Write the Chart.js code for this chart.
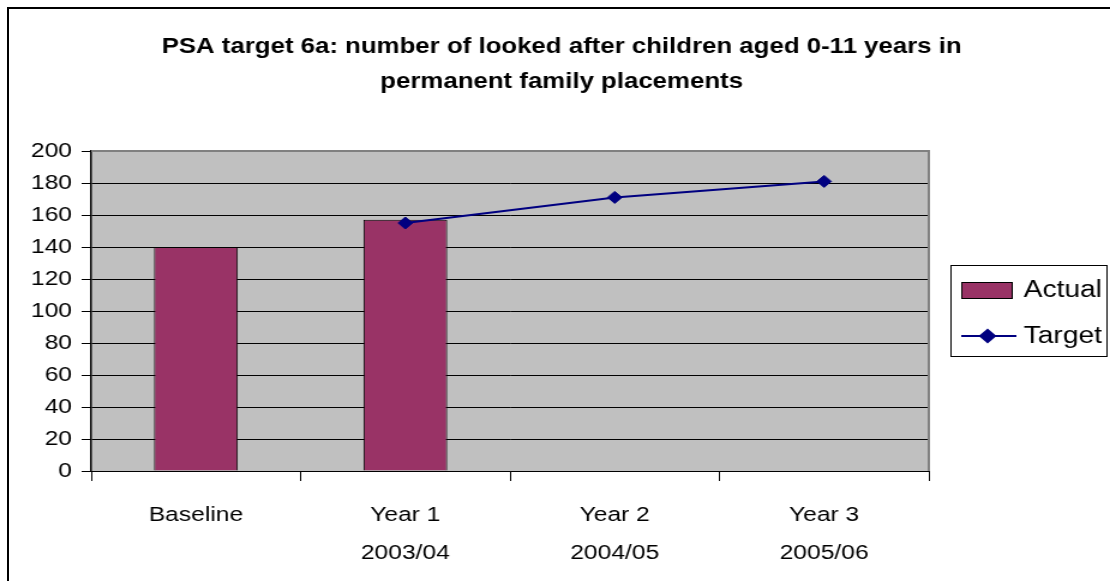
<!DOCTYPE html>
<html>
<head>
<meta charset="utf-8">
<script src="https://cdn.jsdelivr.net/npm/chart.js@4.4.1/dist/chart.umd.min.js"></script>
<style>
  html, body { margin: 0; padding: 0; background: #fff; overflow: hidden; }
  #frame { position: absolute; left: 7px; top: 7px; width: 1200px; height: 700px; border: 2px solid #000; }
  /* the original picture is stretched sideways, so stretch the canvas the same way */
  #chart { position: absolute; left: 0; top: 0; transform: scaleX(1.2); transform-origin: 0 0; }
</style>
</head>
<body>
<div id="frame"></div>
<canvas id="chart" width="925" height="581"></canvas>
<script>
// data
const categories = [['Baseline'], ['Year 1', '2003/04'], ['Year 2', '2004/05'], ['Year 3', '2005/06']];
const actualValues = [140, 157, null, null];
const targetValues = [null, 155, 171, 181];
const yTicks = [0, 20, 40, 60, 80, 100, 120, 140, 160, 180, 200];
const titleLines = ['PSA target 6a: number of looked after children aged 0-11 years in', 'permanent family placements'];

const FONT = '"Liberation Sans", Arial, sans-serif';
const BAR_COLOR = '#993366';
const LINE_COLOR = '#000080';

// grey plot background, grey top/right border, title and boxed legend
const excelLook = {
    id: 'excelLook',
    beforeDraw(chart) {
        const { ctx, chartArea: a } = chart;
        ctx.save();
        ctx.fillStyle = '#c0c0c0';
        ctx.fillRect(a.left, a.top, a.right - a.left, a.bottom - a.top);
        ctx.restore();
    },
    afterDraw(chart) {
        const { ctx, chartArea: a } = chart;
        ctx.save();

        // top / right border of the plot area
        ctx.strokeStyle = '#808080';
        ctx.lineWidth = 2;
        ctx.beginPath();
        ctx.moveTo(a.left, a.top);
        ctx.lineTo(a.right, a.top);
        ctx.lineTo(a.right, a.bottom);
        ctx.stroke();

        // title
        ctx.fillStyle = '#000';
        ctx.font = 'bold 21.5px ' + FONT;
        ctx.textAlign = 'center';
        ctx.textBaseline = 'middle';
        titleLines.forEach((t, i) => ctx.fillText(t, 468, 47 + i * 35));

        // legend
        const ds = chart.data.datasets;
        const bar = ds.find(d => d.type === 'bar');
        const line = ds.find(d => d.type === 'line');
        ctx.lineWidth = 1;
        ctx.strokeStyle = '#000';
        ctx.strokeRect(792.5, 265.5, 130, 91);

        ctx.fillStyle = bar.backgroundColor;
        ctx.fillRect(801, 282, 43, 17);
        ctx.strokeRect(801.5, 282.5, 42, 16);

        ctx.strokeStyle = line.borderColor;
        ctx.lineWidth = 2;
        ctx.beginPath();
        ctx.moveTo(801, 336);
        ctx.lineTo(847, 336);
        ctx.stroke();
        Chart.helpers.drawPoint(ctx, { pointStyle: 'rectRot', radius: 6, rotation: 0, borderWidth: 1 }, 823, 336);
        ctx.fillStyle = line.pointBackgroundColor;
        ctx.fill();

        ctx.fillStyle = '#000';
        ctx.font = '23.5px ' + FONT;
        ctx.textAlign = 'left';
        ctx.fillText(bar.label, 853, 291);
        ctx.fillText(line.label, 853, 337);
        ctx.restore();
    }
};

new Chart(document.getElementById('chart'), {
    data: {
        labels: categories,
        datasets: [
            {
                type: 'line',
                label: 'Target',
                data: targetValues,
                borderColor: LINE_COLOR,
                backgroundColor: LINE_COLOR,
                borderWidth: 2,
                pointStyle: 'rectRot',
                pointRadius: 6,
                pointBorderWidth: 1,
                pointBackgroundColor: LINE_COLOR,
                pointBorderColor: LINE_COLOR,
                tension: 0,
                order: 0
            },
            {
                type: 'bar',
                label: 'Actual',
                data: actualValues,
                backgroundColor: BAR_COLOR,
                borderColor: '#000',
                borderWidth: 1,
                barPercentage: 0.4,
                categoryPercentage: 1,
                order: 1
            }
        ]
    },
    options: {
        responsive: false,
        animation: false,
        devicePixelRatio: 1,
        layout: { padding: { left: 0, top: 151, right: 151, bottom: 0 } },
        plugins: {
            legend: { display: false },
            title: { display: false },
            tooltip: { enabled: false }
        },
        scales: {
            x: {
                offset: true,
                afterFit: s => { s.height = 110; },
                grid: { offset: true, drawOnChartArea: false, drawTicks: true, tickLength: 10, color: '#000' },
                border: { color: '#000', width: 1 },
                ticks: {
                    color: '#000',
                    font: { family: FONT, size: 20.5, lineHeight: 1.85 },
                    padding: 15,
                    maxRotation: 0,
                    autoSkip: false
                }
            },
            y: {
                min: yTicks[0],
                max: yTicks[yTicks.length - 1],
                afterFit: s => { s.width = 76; },
                afterBuildTicks: s => { s.ticks = yTicks.map(v => ({ value: v })); },
                grid: { color: '#000', lineWidth: 1, tickLength: 8 },
                border: { color: '#000', width: 1.5 },
                ticks: {
                    color: '#000',
                    font: { family: FONT, size: 20.5 },
                    padding: 8
                }
            }
        }
    },
    plugins: [excelLook]
});
</script>
</body>
</html>
